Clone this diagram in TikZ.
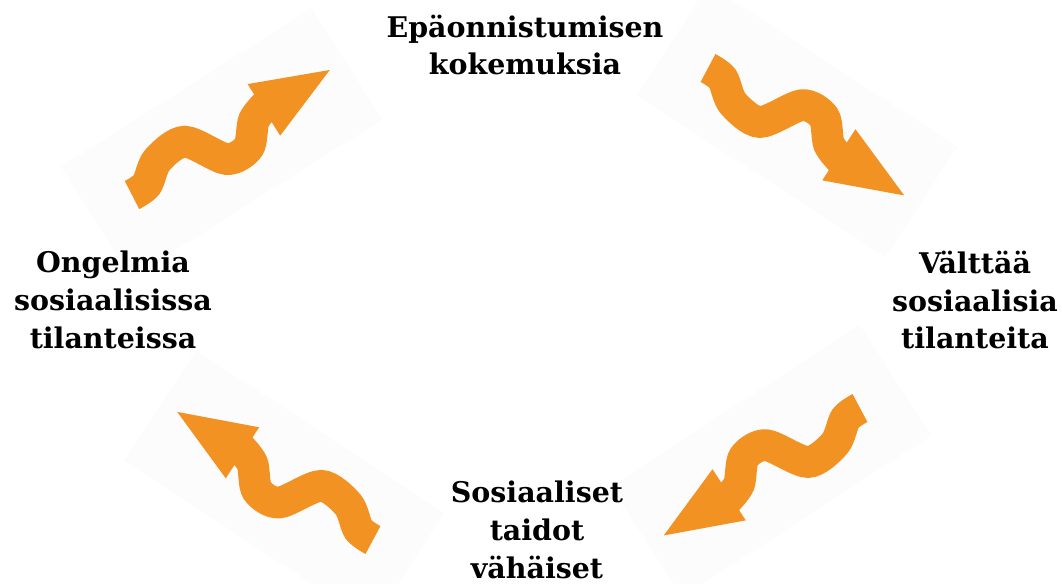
\documentclass[tikz,border=0pt]{standalone}
\usepackage{fontspec}
\setmainfont{DejaVu Serif}
\definecolor{arroworange}{RGB}{242,146,34}
\begin{document}
\begin{tikzpicture}[
		x=0.02cm, y=0.02cm,
		label/.style={align=center, inner sep=0pt, font=\bfseries\fontsize{16.2}{21.5}\selectfont},
		wavebody/.style={draw=arroworange, line width=18pt, line cap=butt},
		wavehead/.style={fill=arroworange},
		wavebg/.style={fill=black!1, draw=none}
	]
		\useasboundingbox (0,0) rectangle (1062,-583);
		
		% Wavy arrow 1 (up-right)
		\begin{scope}[shift={(132,-195)}, rotate=32.3]
			\fill[wavebg] (-45,-70) rectangle (252,62);
			\draw[wavebody] plot[smooth] coordinates {(0,0) (18,1) (40,16) (73,17) (99,-20) (124,-22) (143,-2) (163,5)};
			\fill[wavehead] (157,32) -- (234,0) -- (157,-29) -- cycle;
		\end{scope}
		
		% Wavy arrow 2 (down-right)
		\begin{scope}[shift={(708,-68)}, rotate=-33, yscale=-1]
			\fill[wavebg] (-45,-70) rectangle (252,62);
			\draw[wavebody] plot[smooth] coordinates {(0,0) (18,1) (40,16) (73,17) (99,-20) (124,-22) (143,-2) (163,5)};
			\fill[wavehead] (157,32) -- (234,0) -- (157,-29) -- cycle;
		\end{scope}
		
		% Wavy arrow 3 (up-left)
		\begin{scope}[shift={(373,-540)}, rotate=146.8, yscale=-1]
			\fill[wavebg] (-45,-70) rectangle (252,62);
			\draw[wavebody] plot[smooth] coordinates {(0,0) (18,1) (40,16) (73,17) (99,-20) (124,-22) (143,-2) (163,5)};
			\fill[wavehead] (157,32) -- (234,0) -- (157,-29) -- cycle;
		\end{scope}
		
		% Wavy arrow 4 (down-left)
		\begin{scope}[shift={(860,-408)}, rotate=213]
			\fill[wavebg] (-45,-70) rectangle (252,62);
			\draw[wavebody] plot[smooth] coordinates {(0,0) (18,1) (40,16) (73,17) (99,-20) (124,-22) (143,-2) (163,5)};
			\fill[wavehead] (157,32) -- (234,0) -- (157,-29) -- cycle;
		\end{scope}
		
		% Cycle texts
		\node[label] (failure) at (525,-45) {Epäonnistumisen\\kokemuksia};
		\node[label] (avoid) at (975,-300) {Välttää\\sosiaalisia\\tilanteita};
		\node[label] (skills) at (537,-530) {Sosiaaliset\\taidot\\vähäiset};
		\node[label] (problems) at (113,-300) {Ongelmia\\sosiaalisissa\\tilanteissa};
	\end{tikzpicture}
\end{document}
